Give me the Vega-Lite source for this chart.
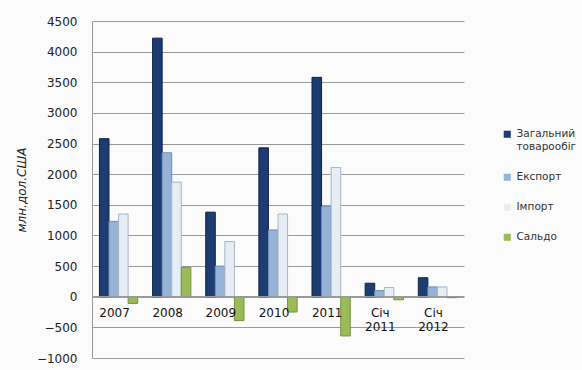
{
  "$schema": "https://vega.github.io/schema/vega-lite/v6.json",
  "width": 372,
  "height": 337,
  "autosize": {"type": "none"},
  "padding": {"left": 92, "top": 21, "right": 118, "bottom": 12},
  "background": "#fbfbfb",
  "config": {
    "font": "DejaVu Sans",
    "view": {"stroke": null},
    "axis": {"labelColor": "#222", "labelFont": "DejaVu Sans", "labelFontSize": 11}
  },
  "data": {
    "values": [
      {"period": "2007", "series": "Загальний товарообіг", "value": 2580},
      {"period": "2007", "series": "Експорт", "value": 1230},
      {"period": "2007", "series": "Імпорт", "value": 1350},
      {"period": "2007", "series": "Сальдо", "value": -110},
      {"period": "2008", "series": "Загальний товарообіг", "value": 4220},
      {"period": "2008", "series": "Експорт", "value": 2350},
      {"period": "2008", "series": "Імпорт", "value": 1870},
      {"period": "2008", "series": "Сальдо", "value": 480},
      {"period": "2009", "series": "Загальний товарообіг", "value": 1380},
      {"period": "2009", "series": "Експорт", "value": 500},
      {"period": "2009", "series": "Імпорт", "value": 900},
      {"period": "2009", "series": "Сальдо", "value": -390},
      {"period": "2010", "series": "Загальний товарообіг", "value": 2430},
      {"period": "2010", "series": "Експорт", "value": 1090},
      {"period": "2010", "series": "Імпорт", "value": 1350},
      {"period": "2010", "series": "Сальдо", "value": -250},
      {"period": "2011", "series": "Загальний товарообіг", "value": 3580},
      {"period": "2011", "series": "Експорт", "value": 1470},
      {"period": "2011", "series": "Імпорт", "value": 2110},
      {"period": "2011", "series": "Сальдо", "value": -640},
      {"period": "Січ 2011", "series": "Загальний товарообіг", "value": 220},
      {"period": "Січ 2011", "series": "Експорт", "value": 100},
      {"period": "Січ 2011", "series": "Імпорт", "value": 150},
      {"period": "Січ 2011", "series": "Сальдо", "value": -50},
      {"period": "Січ 2012", "series": "Загальний товарообіг", "value": 310},
      {"period": "Січ 2012", "series": "Експорт", "value": 160},
      {"period": "Січ 2012", "series": "Імпорт", "value": 160},
      {"period": "Січ 2012", "series": "Сальдо", "value": -15}
    ]
  },
  "mark": {"type": "bar", "strokeWidth": 1},
  "encoding": {
    "x": {
      "field": "period",
      "type": "nominal",
      "sort": null,
      "scale": {"paddingInner": 0.28, "paddingOuter": 0.14},
      "axis": {
        "title": null,
        "labelAngle": 0,
        "labelExpr": "split(datum.label, ' ')",
        "offset": -62,
        "zindex": 1,
        "domainColor": "#999",
        "ticks": false,
        "labelPadding": 11,
        "labelOffset": -4,
        "labelFontSize": 12,
        "labelColor": "#111"
      }
    },
    "xOffset": {
      "field": "series",
      "type": "nominal",
      "sort": ["Загальний товарообіг", "Експорт", "Імпорт", "Сальдо"]
    },
    "y": {
      "field": "value",
      "type": "quantitative",
      "scale": {"domain": [-1000, 4500], "nice": false},
      "axis": {
        "title": "млн.дол.США",
        "format": "d",
        "titleFontStyle": "italic",
        "titleFontWeight": "normal",
        "titleFontSize": 12,
        "titleColor": "#222",
        "titlePadding": 8,
        "values": [-1000, -500, 0, 500, 1000, 1500, 2000, 2500, 3000, 3500, 4000, 4500],
        "grid": true,
        "gridColor": "#9a9a9a",
        "domainColor": "#999",
        "ticks": false,
        "labelPadding": 15,
        "labelFontSize": 12
      }
    },
    "color": {
      "field": "series",
      "type": "nominal",
      "sort": ["Загальний товарообіг", "Експорт", "Імпорт", "Сальдо"],
      "scale": {"range": ["#1c3c72", "#95b3d7", "#e6edf5", "#9bbb59"]},
      "legend": {
        "title": null,
        "orient": "none",
        "legendX": 410,
        "legendY": 108,
        "symbolType": "square",
        "symbolSize": 50,
        "symbolStrokeWidth": 0,
        "labelFontSize": 10.5,
        "labelColor": "#333",
        "labelOffset": 4,
        "labelExpr": "datum.label == 'Загальний товарообіг' ? ['Загальний', 'товарообіг'] : datum.label",
        "rowPadding": 19
      }
    },
    "stroke": {
      "field": "series",
      "type": "nominal",
      "sort": ["Загальний товарообіг", "Експорт", "Імпорт", "Сальдо"],
      "scale": {"range": ["#0f2448", "#6f8fb8", "#a9b4c2", "#77933c"]},
      "legend": null
    }
  }
}
